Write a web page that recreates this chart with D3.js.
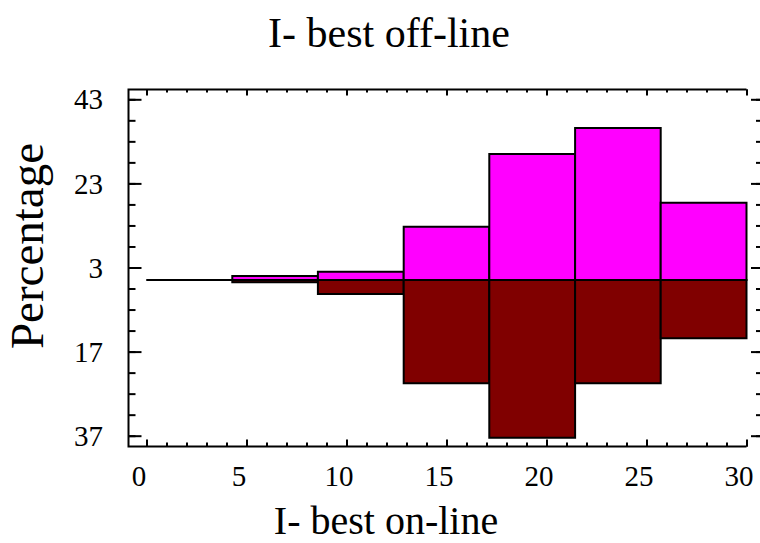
<!DOCTYPE html>
<html>
<head>
<meta charset="utf-8">
<script src="https://cdn.jsdelivr.net/npm/d3@7"></script>
<style>
  body { margin: 0; background: #fff; }
  svg { display: block; font-family: "Liberation Serif", "Times New Roman", serif; }
  .axis path { stroke: none; }
  .axis line { stroke: #000; stroke-width: 2; }
  .axis text { font-size: 29px; fill: #000; font-family: "Liberation Serif", serif; }
</style>
</head>
<body>
<div id="chart"></div>
<script>
// histogram bins (I- best on-line)
const binEdges = [0, 4.29, 8.57, 12.86, 17.14, 21.43, 25.71, 30];
// upper half: I- best off-line (percentage)
const offline = [0, 1.0, 2.0, 12.7, 30.0, 36.2, 18.4];
// lower half: I- best on-line (percentage, drawn downward)
const online = [0, 0.5, 3.3, 24.5, 37.5, 24.5, 13.8];
const xTickValues = [0, 5, 10, 15, 20, 25, 30];
const yTickValues = [43, 23, 3, -17, -37];

const W = 760, H = 543;
const frame = { left: 128.5, right: 746.5, top: 89.5, bottom: 446.5 };

const svg = d3.select("#chart").append("svg")
  .attr("width", W)
  .attr("height", H);

const x = d3.scaleLinear().domain([-0.9, 30]).range([frame.left, frame.right]);
const y = d3.scaleLinear().domain([-39.57, 45.33]).range([frame.bottom, frame.top]);

const bins = binEdges.slice(0, -1).map((x0, i) => ({
  x0, x1: binEdges[i + 1], up: offline[i], down: online[i]
}));

// bars as paths so that empty bins still show as a line
const barPath = (x0, x1, v0, v1) =>
  `M${x(x0)},${y(v0)}H${x(x1)}V${y(v1)}H${x(x0)}Z`;

svg.append("g").selectAll("path")
  .data(bins)
  .join("path")
    .attr("d", d => barPath(d.x0, d.x1, 0, d.up))
    .attr("fill", "#ff00ff")
    .attr("stroke", "#000")
    .attr("stroke-width", 2);

svg.append("g").selectAll("path")
  .data(bins)
  .join("path")
    .attr("d", d => barPath(d.x0, d.x1, 0, -d.down))
    .attr("fill", "#800000")
    .attr("stroke", "#000")
    .attr("stroke-width", 2);

// frame (no right edge visible in original)
svg.append("path")
  .attr("d", `M${frame.right},${frame.top}H${frame.left}V${frame.bottom}H${frame.right}`)
  .attr("fill", "none")
  .attr("stroke", "#000")
  .attr("stroke-width", 2);

// x axis ticks
const xMinor = d3.range(0, 31, 1);
svg.append("g").attr("class", "axis")
  .attr("transform", `translate(0,${frame.bottom})`)
  .call(d3.axisBottom(x).tickValues(xMinor).tickSize(-4).tickFormat(""));
svg.append("g").attr("class", "axis")
  .attr("transform", `translate(0,${frame.bottom})`)
  .call(d3.axisBottom(x).tickValues(xTickValues).tickSize(-7).tickFormat(""));
svg.append("g").attr("class", "axis")
  .attr("transform", `translate(0,${frame.top})`)
  .call(d3.axisTop(x).tickValues(xMinor).tickSize(-3).tickFormat(""));
svg.append("g").attr("class", "axis")
  .attr("transform", `translate(0,${frame.top})`)
  .call(d3.axisTop(x).tickValues(xTickValues).tickSize(-6).tickFormat(""));

// x tick labels (shifted a bit left as in the original)
svg.append("g").selectAll("text")
  .data(xTickValues)
  .join("text")
    .attr("x", d => x(d) - 7.5)
    .attr("y", 486)
    .attr("text-anchor", "middle")
    .attr("font-size", 29)
    .text(d => d);

// y axis ticks
const yMinor = d3.range(43, -38, -5);
svg.append("g").attr("class", "axis")
  .attr("transform", `translate(${frame.left},0)`)
  .call(d3.axisLeft(y).tickValues(yMinor).tickSize(-7).tickFormat(""));
svg.append("g").attr("class", "axis")
  .attr("transform", `translate(${frame.left},0)`)
  .call(d3.axisLeft(y).tickValues(yTickValues).tickSize(-13).tickFormat(""));
svg.append("g").attr("class", "axis")
  .attr("transform", `translate(760,0)`)
  .call(d3.axisRight(y).tickValues(yMinor).tickSize(-4).tickFormat(""));
svg.append("g").attr("class", "axis")
  .attr("transform", `translate(760,0)`)
  .call(d3.axisRight(y).tickValues(yTickValues).tickSize(-9).tickFormat(""));

// y tick labels (absolute values)
svg.append("g").selectAll("text")
  .data(yTickValues)
  .join("text")
    .attr("x", 103)
    .attr("y", d => y(d))
    .attr("dy", "0.35em")
    .attr("text-anchor", "end")
    .attr("font-size", 29)
    .text(d => Math.abs(d));

// titles
svg.append("text")
  .attr("x", 389).attr("y", 47)
  .attr("text-anchor", "middle")
  .attr("font-size", 42)
  .text("I- best off-line");

svg.append("text")
  .attr("x", 386).attr("y", 534)
  .attr("text-anchor", "middle")
  .attr("font-size", 40)
  .text("I- best on-line");

svg.append("text")
  .attr("transform", "translate(43,246) rotate(-90)")
  .attr("text-anchor", "middle")
  .attr("font-size", 47)
  .text("Percentage");
</script>
</body>
</html>
